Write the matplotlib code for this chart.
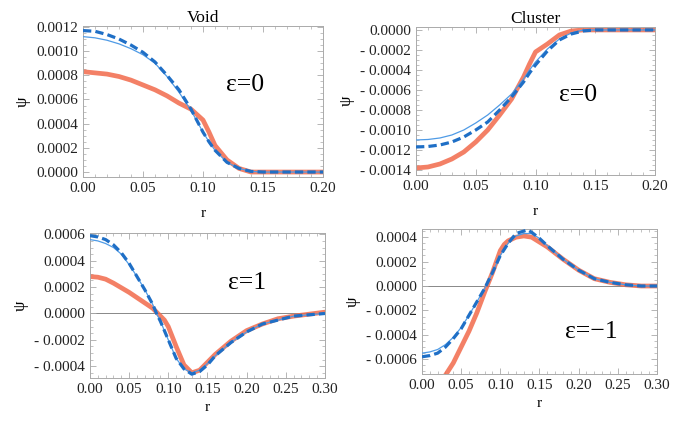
import matplotlib
matplotlib.use("Agg")
import matplotlib.pyplot as plt
from matplotlib.ticker import MultipleLocator, FuncFormatter

# ---- data ----
# Void, eps=0
r_v0 = [0.0, 0.01, 0.02, 0.03, 0.04, 0.05, 0.06, 0.07, 0.08, 0.09, 0.10, 0.105, 0.11, 0.12, 0.13, 0.14, 0.15, 0.20]
v0_thin = [0.00112, 0.00111, 0.00109, 0.00106, 0.00102, 0.00097, 0.00090, 0.00079, 0.00066, 0.00051, 0.00033, 0.00025, 0.00018, 0.00008, 0.00003, 0.000005, 0.0, 0.0]
v0_dash = [0.00117, 0.001164, 0.001137, 0.00110, 0.00105, 0.00099, 0.00091, 0.00080, 0.00068, 0.00052, 0.00033, 0.00025, 0.00018, 0.00008, 0.00003, 0.000005, 0.0, 0.0]
v0_num = [0.00083, 0.00082, 0.00081, 0.00079, 0.00076, 0.00072, 0.00068, 0.00063, 0.00057, 0.00052, 0.00043, 0.00033, 0.00022, 0.00010, 0.00003, 0.0, 0.0, 0.0]

# Cluster, eps=0
r_c0 = [0.0, 0.01, 0.02, 0.03, 0.04, 0.05, 0.06, 0.07, 0.08, 0.09, 0.095, 0.10, 0.11, 0.12, 0.13, 0.14, 0.15, 0.20]
c0_thin = [-0.00110, -0.001095, -0.00108, -0.00105, -0.00100, -0.00093, -0.00085, -0.00075, -0.00064, -0.00049, -0.00040, -0.00032, -0.00019, -0.00009, -0.00003, 0.0, 0.0, 0.0]
c0_dash = [-0.00117, -0.001165, -0.00115, -0.00112, -0.00107, -0.00100, -0.00092, -0.00080, -0.00067, -0.00052, -0.00043, -0.00035, -0.00021, -0.00010, -0.00004, -0.00001, 0.0, 0.0]
c0_num = [-0.00138, -0.00137, -0.00134, -0.00129, -0.00122, -0.00112, -0.00100, -0.00085, -0.00069, -0.00047, -0.00034, -0.00022, -0.00014, -0.00005, -0.00001, 0.0, 0.0, 0.0]

# Void, eps=1
r_v1 = [0.0, 0.01, 0.02, 0.03, 0.04, 0.05, 0.06, 0.07, 0.08, 0.085, 0.09, 0.095, 0.10, 0.11, 0.12, 0.13, 0.14, 0.15, 0.16, 0.18, 0.20, 0.22, 0.24, 0.26, 0.28, 0.30]
v1_thin = [0.00056, 0.00055, 0.00053, 0.00050, 0.00045, 0.00037, 0.00028, 0.00018, 0.00007, 0.0, -0.00006, -0.00013, -0.00020, -0.00034, -0.00042, -0.00045, -0.00043, -0.00038, -0.00032, -0.00022, -0.00014, -0.00008, -0.00005, -0.00002, -0.00001, 0.0]
v1_dash = [0.00059, 0.00058, 0.00056, 0.00052, 0.00046, 0.00038, 0.00028, 0.00018, 0.00007, 0.0, -0.00006, -0.00013, -0.00020, -0.00034, -0.00042, -0.00046, -0.00044, -0.00039, -0.00032, -0.00022, -0.00014, -0.00008, -0.00005, -0.00002, -0.00001, 0.0]
v1_num = [0.00028, 0.000275, 0.00026, 0.00023, 0.000195, 0.00016, 0.00012, 0.00008, 0.00004, 0.00001, -0.00002, -0.00005, -0.00010, -0.00025, -0.00039, -0.00045, -0.00043, -0.00037, -0.00031, -0.00021, -0.00013, -0.00008, -0.00004, -0.00002, -0.000005, 0.00001]

# Cluster, eps=-1
r_c1 = [0.0, 0.01, 0.02, 0.03, 0.04, 0.05, 0.06, 0.07, 0.08, 0.09, 0.10, 0.105, 0.11, 0.12, 0.13, 0.135, 0.14, 0.15, 0.16, 0.18, 0.20, 0.22, 0.24, 0.26, 0.28, 0.30]
c1_thin = [-0.00055, -0.00054, -0.00052, -0.00048, -0.00042, -0.00034, -0.00024, -0.00013, -0.00002, 0.00011, 0.00025, 0.00030, 0.00035, 0.00041, 0.00043, 0.00043, 0.00043, 0.00039, 0.00033, 0.00022, 0.00013, 0.00006, 0.00003, 0.00001, 0.0, 0.0]
c1_dash = [-0.00058, -0.00057, -0.00055, -0.00050, -0.00043, -0.00035, -0.00024, -0.00013, -0.00002, 0.00011, 0.00025, 0.00030, 0.00035, 0.00043, 0.00045, 0.00046, 0.00044, 0.00039, 0.00033, 0.00022, 0.00013, 0.00006, 0.00003, 0.00001, 0.0, 0.0]
r_c1n = [0.025, 0.03, 0.04, 0.05, 0.06, 0.07, 0.08, 0.09, 0.10, 0.105, 0.11, 0.12, 0.13, 0.14, 0.15, 0.16, 0.18, 0.20, 0.22, 0.24, 0.26, 0.28, 0.30]
c1_num = [-0.00078, -0.00073, -0.00063, -0.00050, -0.00037, -0.00022, -0.00005, 0.00011, 0.00029, 0.00034, 0.00037, 0.00040, 0.00041, 0.00040, 0.00036, 0.00032, 0.00022, 0.00013, 0.00006, 0.00003, 0.00001, 0.0, 0.0]

plt.rcParams['font.family'] = ['Liberation Serif', 'DejaVu Serif']
plt.rcParams['font.size'] = 11

C_NUM = '#f26a4b'
C_DASH = '#1f6fc6'
C_THIN = '#4f9be6'


def yfmt(v, pos):
    if abs(v) < 1e-12:
        return '0.0000'
    if v < 0:
        return '- %.4f' % abs(v)
    return '%.4f' % v


def panel(rect, r, thin, dash, rn, num, ylim, label, lpos, title=None, zero=False, xmax=0.3, xpad=4):
    ax = fig.add_axes(rect)
    if zero:
        ax.axhline(0, color='#888888', lw=0.7, zorder=1)
    ax.plot(rn, num, color=C_NUM, lw=3.4, alpha=0.85, zorder=2, solid_joinstyle='round')
    ax.plot(r, thin, color=C_THIN, lw=0.9, zorder=3)
    ax.plot(r, dash, color=C_DASH, lw=2.3, ls=(0, (2.6, 1.3)), zorder=4)
    ax.set_xlim(0, xmax)
    ax.set_ylim(*ylim)
    ax.xaxis.set_major_locator(MultipleLocator(0.05))
    ax.xaxis.set_minor_locator(MultipleLocator(0.01))
    ax.yaxis.set_major_locator(MultipleLocator(0.0002))
    ax.yaxis.set_minor_locator(MultipleLocator(0.00005))
    ax.yaxis.set_major_formatter(FuncFormatter(yfmt))
    ax.xaxis.set_major_formatter(FuncFormatter(lambda v, p: '%.2f' % v))
    ax.tick_params(which='both', direction='in', top=True, right=True,
                   color='#aaaaaa', labelsize=11, labelcolor='#222222')
    ax.tick_params(which='major', length=4, width=0.6)
    ax.tick_params(which='minor', length=2, width=0.5)
    for s in ax.spines.values():
        s.set_color('#aaaaaa')
        s.set_linewidth(0.7)
    ax.set_xlabel('r', fontsize=11, labelpad=xpad)
    ax.set_ylabel('ψ', fontsize=12)
    ax.text(lpos[0], lpos[1], label, transform=ax.transAxes, ha='center', va='center', fontsize=18.5)
    if title:
        ax.set_title(title, fontsize=12.5, pad=2)
    return ax


fig = plt.figure(figsize=(6.78, 4.23), dpi=100)

panel([0.1224, 0.5816, 0.354, 0.357], r_v0, v0_thin, v0_dash, r_v0, v0_num,
      (-0.000041, 0.001208), 'ε=0', (0.675, 0.61), title='Void', xmax=0.2, xpad=9)
panel([0.6136, 0.5863, 0.3525, 0.35], r_c0, c0_thin, c0_dash, r_c0, c0_num,
      (-0.00145, 0.00003), 'ε=0', (0.68, 0.54), title='Cluster', xmax=0.2, xpad=9)
panel([0.1327, 0.1064, 0.3466, 0.3428], r_v1, v1_thin, v1_dash, r_v1, v1_num,
      (-0.000489, 0.00061), 'ε=1', (0.67, 0.655), zero=True)
panel([0.6224, 0.1158, 0.3466, 0.3428], r_c1, c1_thin, c1_dash, r_c1n, c1_num,
      (-0.000721, 0.000467), 'ε=−1', (0.72, 0.29), zero=True)

fig.savefig('out.png', dpi=100)
